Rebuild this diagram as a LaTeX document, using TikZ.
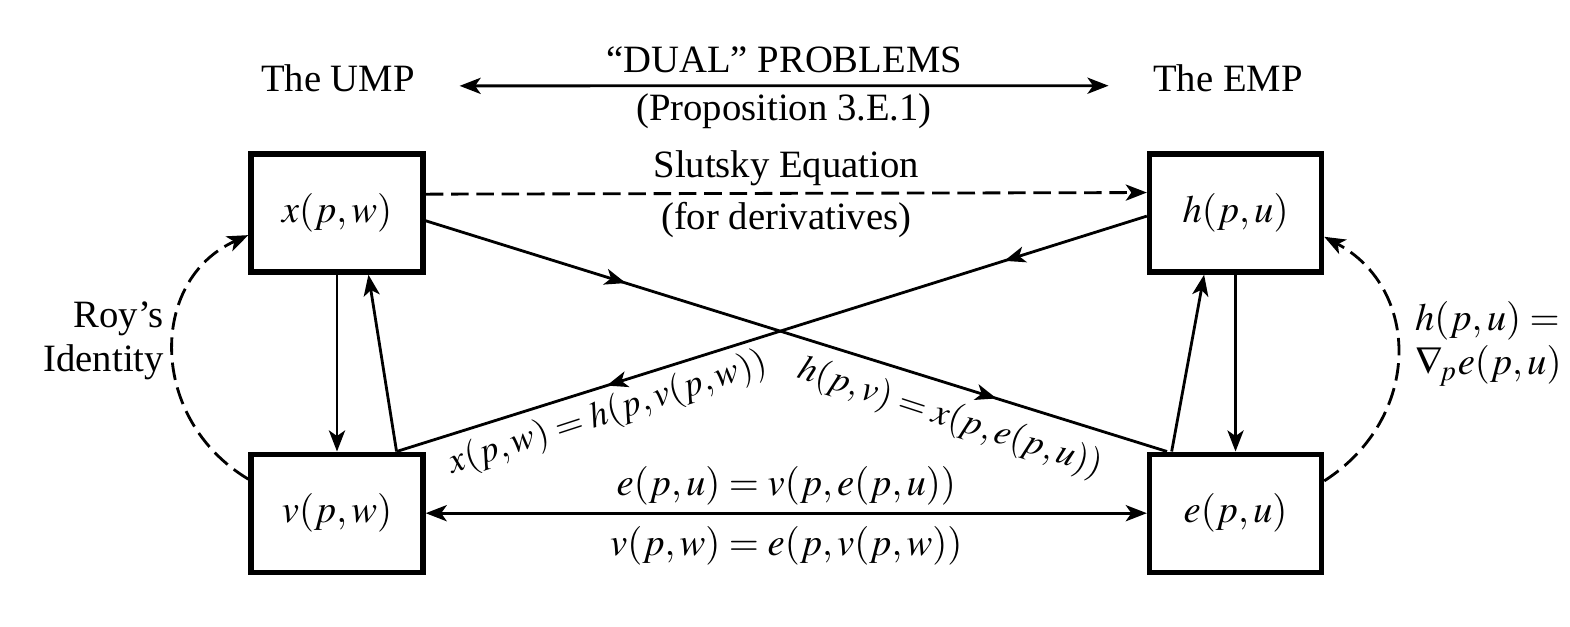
\documentclass[tikz,border=0pt]{standalone}
\usepackage{amsmath,amssymb}
\usepackage{mathptmx}
\usepackage{fontspec}
\setmainfont{Liberation Serif}
\usetikzlibrary{positioning,arrows.meta,decorations.markings}

\begin{document}
\begin{tikzpicture}[x=0.01cm,y=-0.01cm,node distance=3cm and 8.98cm,on grid,
   >={Stealth[length=6pt,width=4.6pt,inset=1.6pt]},line width=0.8pt,
   font=\fontsize{11}{12.5}\selectfont,
   funcbox/.style={draw,line width=1.5pt,minimum width=1.72cm,minimum height=1.18cm},
   dashline/.style={dash pattern=on 5pt off 2.2pt},
   slopelbl/.style={font=\fontsize{10.3}{12}\selectfont,inner sep=1pt},
   twoarrows/.style 2 args={postaction={decorate},decoration={markings,
      mark=at position #1 with {\arrow{>}},mark=at position #2 with {\arrow{>}}}}]

   \useasboundingbox (0,0) rectangle (1570,626);

   % the four functions
   \node[funcbox] (x) at (337,213) {$x(p,w)$};
   \node[funcbox] (h) [right=of x] {$h(p,u)$};
   \node[funcbox] (v) [below=of x] {$v(p,w)$};
   \node[funcbox] (e) [below=of h] {$e(p,u)$};

   % the two problems
   \node (ump) at (338,78) {The UMP};
   \node (emp) at (1228,78) {The EMP};
   \draw[<->,shorten <=9pt,shorten >=9pt] (ump.-5) --
      node[above] {``DUAL'' PROBLEMS}
      node[below,inner sep=1.8pt] {(Proposition 3.E.1)} (emp.185);

   \draw[->,dashline] (x.12) -- node[above,inner sep=1.8pt] {Slutsky Equation}
      node[below,inner sep=2pt] {(for derivatives)} (h.167);

   % crossing lines
   \draw[twoarrows={0.27}{0.77}] (x.-5) -- (e.138);
   \draw[twoarrows={0.19}{0.72}] (h.182) -- (v.46);
   \node[slopelbl,rotate=18] (xh) at (608,414) {$x(p,w)=h(p,v(p,w))$};
   \node[slopelbl,rotate=-18] (hx) at (950,418) {$h(p,v)=x(p,e(p,u))$};

   \path[->]
   (x.south) edge (v.north)
   (v.46) edge (x.-63)
   (h.south) edge (e.north)
   (e.136) edge (h.-117);

   \draw[<->] (v.east) -- node[above,inner sep=2pt] {$e(p,u)=v(p,e(p,u))$}
      node[below] {$v(p,w)=e(p,v(p,w))$} (e.west);

   % identities
   \draw[->,dashline] (v.159) .. controls +(-100,-60) and +(-100,45) .. (x.194);
   \draw[->,dashline] (e.20) .. controls +(98,-63) and +(97,52) .. (h.-15);
   \node[align=right,anchor=east] (roy) at (177,341) {Roy’s\\Identity};
   \node[align=left,anchor=west] (grad) at (1402,344) {$h(p,u)=$\\$\nabla_{\!p}e(p,u)$};
\end{tikzpicture}
\end{document}
